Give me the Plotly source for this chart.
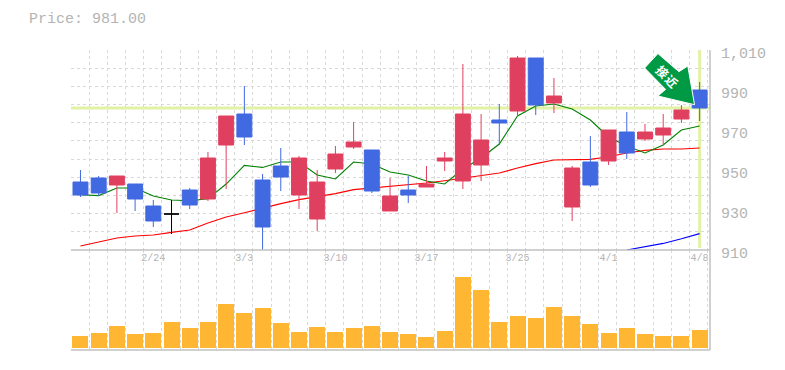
import plotly.graph_objects as go

dates = ["2/18","2/19","2/20","2/21","2/24","2/25","2/26","2/27","2/28","3/3","3/4","3/5","3/6","3/7","3/10","3/11","3/12","3/13","3/14","3/17","3/18","3/19","3/21","3/24","3/25","3/26","3/27","3/28","3/31","4/1","4/2","4/3","4/4","4/7","4/8"]
tick_dates = ["2/24","3/3","3/10","3/17","3/25","4/1","4/8"]
opens = [944,946,942.5,943,932,928,940,935.5,962.5,978,945,952,937.5,925.5,950.5,961.5,960,929.5,940,941.5,954.5,944.5,952.5,975,979.5,1006,983.5,931.5,954,954.5,969,965.5,967.5,975.5,990]
highs = [950,947,947,943,935,935,941,959,977,992,948,961,957,950,962,974,960,946,947,952,959,1003,978,983,1007,1006,996,952,967,970,979,973,978,982.5,994]
lows = [936.5,937,928.5,929.5,921.5,918,930.5,934.5,940.5,962.5,910,939.5,930.5,919.5,948.5,960.5,938.5,929.5,933.5,941.5,949.5,940.5,944.5,962.5,977.5,977.5,978.5,924.5,941.5,952.5,955.5,964.5,962.5,973.5,974.5]
closes = [937.5,938.5,947,935.5,924.5,928,932.5,956,977,966.5,921.5,946.5,956,944,958,964,939.5,937,937.5,943,956,978,965,973.5,1006,982.5,987,951,942.5,970,958.5,969,971,980,981]
ma_short = [937.6,937.2,941,941,937,935,934.6,935.6,943,952.3,951.3,954,954,947.5,945.5,954,953,949,947.5,944.5,943,950.5,956,963,977,982,983,980.5,975,966.5,962,958.5,962.5,970,972]
ma_mid = [912,914,916,917,917.5,918.8,920,923.5,926.5,928.6,931,933.2,935.2,936.8,938.2,940.2,941,941.6,942.6,943.5,944.6,946,947.3,948.5,951,953.2,955,955,955.3,956.6,958.5,959.8,960.5,960.5,961]
ma_long = [None]*30 + [910,911.5,913.3,915.6,918.2]
volume = [12,15,22,14,15,26,20,26,44,35,40,25,16,21,16,20,22,16,14,11,17,71,58,26,32,30,41,32,24,15,20,14,12,12,18]
price_ticks = [1010,990,970,950,930,910]
price_labels = ["1,010","990","970","950","930","910"]
badge_chars = ["接", "近"]
last_price = 981.0

GRID = "#d8d8d8"; AXIS = "#c0c0c0"; TEXT = "#b4b4b4"; MONO = "Liberation Mono, DejaVu Sans Mono, monospace"
PY = [910, 1010]
XR = [-0.52, 34.57]
n = list(range(len(dates)))
up = [i for i in n if closes[i] > opens[i]]
dn = [i for i in n if closes[i] < opens[i]]
dj = [i for i in n if closes[i] == opens[i]]
pick = lambda a, idx: [a[i] for i in idx]

fig = go.Figure()
for vals, col in ((ma_long, "#0000ff"), (ma_mid, "#ff0000"), (ma_short, "#008000")):
    fig.add_trace(go.Scatter(x=n, y=vals, mode="lines", line=dict(color=col, width=1.1),
                             xaxis="x", yaxis="y", showlegend=False, hoverinfo="skip"))
def candle(idx, col):
    fig.add_trace(go.Candlestick(x=idx, open=pick(opens, idx), high=pick(highs, idx),
        low=pick(lows, idx), close=pick(closes, idx), xaxis="x3", yaxis="y3", showlegend=False,
        increasing=dict(line=dict(color=col, width=1), fillcolor=col),
        decreasing=dict(line=dict(color=col, width=1), fillcolor=col),
        whiskerwidth=0))
candle(up, "#e0405f"); candle(dn, "#4169e1"); candle(dj, "#000000")
fig.add_trace(go.Bar(x=n, y=volume, marker=dict(color="#ffb733", line_width=0), width=0.877,
                     xaxis="x2", yaxis="y2", showlegend=False))

gridx = dict(range=XR, domain=[0, 1], zeroline=False, showline=False, ticks="", showticklabels=False, showgrid=True,
             gridcolor=GRID, griddash="3px,3px", gridwidth=1, tick0=XR[0] + 0.002, dtick=0.9989)
tick_idx = [dates.index(d) for d in tick_dates]
fig.update_layout(
    width=785, height=370, autosize=False, paper_bgcolor="white", plot_bgcolor="white",
    margin=dict(l=62.5, r=82.5, t=42.3, b=27.7), dragmode=False, bargap=0,
    boxmode="overlay", boxgap=0.18, boxgroupgap=0,
    font=dict(family=MONO, color=TEXT),
    xaxis=dict(**gridx, anchor="y"),
    xaxis2=dict(**gridx, anchor="y2"),
    xaxis3=dict(range=XR, overlaying="x", anchor="y", side="bottom", showgrid=False, zeroline=False, showline=False, ticks="",
                showticklabels=True, tickmode="array", tickvals=tick_idx, ticktext=tick_dates,
                tickfont=dict(size=10, color=TEXT), rangeslider=dict(visible=False)),
    yaxis=dict(domain=[0.3333, 1], range=PY, anchor="x", showticklabels=False, zeroline=False, showline=False, ticks="",
               showgrid=True, gridcolor=GRID, griddash="3px,3px", gridwidth=1, tick0=910, dtick=9.0909),
    yaxis2=dict(domain=[0, 0.3333], range=[-2.3, 97.7], showticklabels=False, showgrid=False, zeroline=False, ticks="", anchor="x2"),
    yaxis3=dict(range=PY, overlaying="y", side="right", anchor="x", tickmode="array", tickvals=price_ticks, ticktext=price_labels,
                tickfont=dict(size=15, color=TEXT), showgrid=False, zeroline=False, ticks="", showline=False,
                ticklabelshift=3, ticklabelstandoff=10),
    annotations=[
        dict(text=f"Price: {last_price:.2f}", xref="paper", yref="paper", x=-44 / 640, y=1 + 31 / 300, xanchor="left", yanchor="middle",
             showarrow=False, font=dict(size=15, color=TEXT, family=MONO)),
        dict(text=badge_chars[0], xref="paper", yref="paper", x=(663.5 - 70.5) / 640, y=(350.3 - 71.5) / 300, textangle=45, showarrow=False,
             xanchor="center", yanchor="middle", font=dict(size=12, color="#ffffff", family="Noto Sans CJK JP", weight="bold")),
        dict(text=badge_chars[1], xref="paper", yref="paper", x=(672 - 70.5) / 640, y=(350.3 - 81) / 300, textangle=45, showarrow=False,
             xanchor="center", yanchor="middle", font=dict(size=12, color="#ffffff", family="Noto Sans CJK JP", weight="bold")),
    ],
    shapes=[
        dict(type="line", xref="x", yref="y", x0=XR[0], x1=XR[1], y0=last_price, y1=last_price, line=dict(color="#e2f2a4", width=3), layer="below"),
        dict(type="line", xref="x", yref="y", x0=n[-1], x1=n[-1], y0=911, y1=1010, line=dict(color="#e2f2a4", width=3), layer="below"),
        dict(type="line", xref="paper", yref="paper", x0=0, x1=1, y0=0, y1=0, line=dict(color=AXIS, width=1.5)),
        dict(type="line", xref="paper", yref="paper", x0=0, x1=1, y0=0.3333, y1=0.3333, line=dict(color=AXIS, width=1.5)),
        dict(type="line", xref="paper", yref="paper", x0=1, x1=1, y0=0, y1=1, line=dict(color=AXIS, width=1.5)),
        dict(type="path", xref="paper", yref="paper", fillcolor="#009944", line=dict(color="white", width=1),
             path="M 0.9185 0.988 L 0.9513 0.9277 L 0.9653 0.9467 L 0.9758 0.8177 L 0.9185 0.8467 L 0.9305 0.8687 L 0.8977 0.94 Z"),
    ],
)
fig.write_html("out.html")
